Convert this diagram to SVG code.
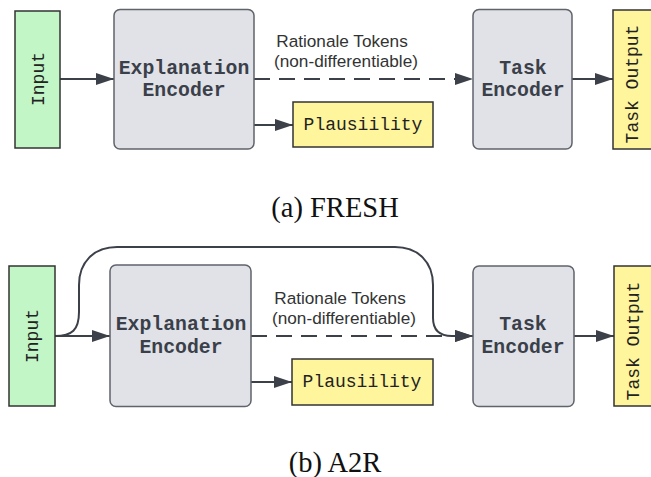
<svg xmlns="http://www.w3.org/2000/svg" width="651" height="477" viewBox="0 0 651 477">
<defs>
<style>
.inp{fill:#c3f6c6;stroke:#333;stroke-width:1.5}
.enc{fill:#e0e2e7;stroke:#5f636b;stroke-width:1.5}
.out{fill:#fff59d;stroke:#333;stroke-width:1.5}
.mono{font-family:"Liberation Mono","DejaVu Sans Mono",monospace;fill:#222;font-size:18px;text-anchor:middle}
.bold{font-family:"Liberation Mono","DejaVu Sans Mono",monospace;font-weight:bold;fill:#3a3f4a;font-size:19.8px;text-anchor:middle}
.lbl{font-family:"Liberation Sans",Arial,sans-serif;fill:#333;font-size:17.2px;text-anchor:middle}
.cap{font-family:"Liberation Serif","Times New Roman",serif;fill:#111;font-size:28.5px;text-anchor:middle}
.ln{fill:none;stroke:#3c4049;stroke-width:2}
.dash{stroke-dasharray:16 9}
</style>
<marker id="ah" markerUnits="userSpaceOnUse" markerWidth="18" markerHeight="12" refX="18" refY="6" orient="auto">
<path d="M0,0 L18,6 L0,12 Z" fill="#3c4049"/>
</marker>
</defs>

<g id="connectors">
<line class="ln" x1="60" y1="79" x2="114" y2="79" marker-end="url(#ah)"/>
<line class="ln dash" x1="254" y1="79" x2="473" y2="79" marker-end="url(#ah)"/>
<line class="ln" x1="254" y1="125" x2="293" y2="125" marker-end="url(#ah)"/>
<line class="ln" x1="572" y1="79" x2="613" y2="79" marker-end="url(#ah)"/>

<line class="ln" x1="55" y1="336" x2="110" y2="336" marker-end="url(#ah)"/>
<path class="ln" d="M55,336 C72,336 79,330 79,312 L79,285 C79,262 94,247 117,247 L395,247 C418,247 433,262 433,285 L433,318 C433,330 440,336 452,336 L473,336" marker-end="url(#ah)"/>
<line class="ln dash" x1="251" y1="336" x2="473" y2="336" marker-end="url(#ah)"/>
<line class="ln" x1="251" y1="382" x2="292" y2="382" marker-end="url(#ah)"/>
<line class="ln" x1="574" y1="336" x2="614" y2="336" marker-end="url(#ah)"/>
</g>

<g id="label-a">
<text class="lbl" x="342" y="47">Rationale Tokens</text>
<text class="lbl" x="346" y="67">(non-differentiable)</text>
</g>
<g id="label-b">
<text class="lbl" x="340" y="304">Rationale Tokens</text>
<text class="lbl" x="344" y="324">(non-differentiable)</text>
</g>

<g id="input-a">
<rect class="inp" x="15" y="11" width="45" height="137"/>
<text class="mono" transform="translate(37.5,79) rotate(-90)" y="6">Input</text>
</g>
<g id="explanation-encoder-a">
<rect class="enc" x="114" y="9.5" width="140" height="139.5" rx="6"/>
<text class="bold" x="184" y="74">Explanation</text>
<text class="bold" x="184" y="96">Encoder</text>
</g>
<g id="plausibility-a">
<rect class="out" x="293" y="102" width="140" height="45"/>
<text class="mono" x="363" y="130">Plausiility</text>
</g>
<g id="task-encoder-a">
<rect class="enc" x="473" y="9.5" width="99" height="139.5" rx="6"/>
<text class="bold" x="523" y="74">Task</text>
<text class="bold" x="523" y="96">Encoder</text>
</g>
<g id="task-output-a">
<rect class="out" x="613" y="10" width="45" height="139"/>
<text class="mono" transform="translate(632,84) rotate(-90)" y="6">Task Output</text>
</g>
<g id="caption-a">
<text class="cap" x="335" y="217">(a) FRESH</text>
</g>

<g id="input-b">
<rect class="inp" x="9" y="266" width="46" height="140"/>
<text class="mono" transform="translate(32,336) rotate(-90)" y="6">Input</text>
</g>
<g id="explanation-encoder-b">
<rect class="enc" x="110" y="265" width="141" height="141.5" rx="6"/>
<text class="bold" x="181" y="330">Explanation</text>
<text class="bold" x="181" y="353">Encoder</text>
</g>
<g id="plausibility-b">
<rect class="out" x="292" y="359" width="141" height="46"/>
<text class="mono" x="362" y="387">Plausiility</text>
</g>
<g id="task-encoder-b">
<rect class="enc" x="473" y="266" width="101" height="140.5" rx="6"/>
<text class="bold" x="523" y="330">Task</text>
<text class="bold" x="523" y="353">Encoder</text>
</g>
<g id="task-output-b">
<rect class="out" x="614" y="266" width="45" height="140"/>
<text class="mono" transform="translate(633,341) rotate(-90)" y="6">Task Output</text>
</g>
<g id="caption-b">
<text class="cap" x="335" y="472">(b) A2R</text>
</g>
</svg>
